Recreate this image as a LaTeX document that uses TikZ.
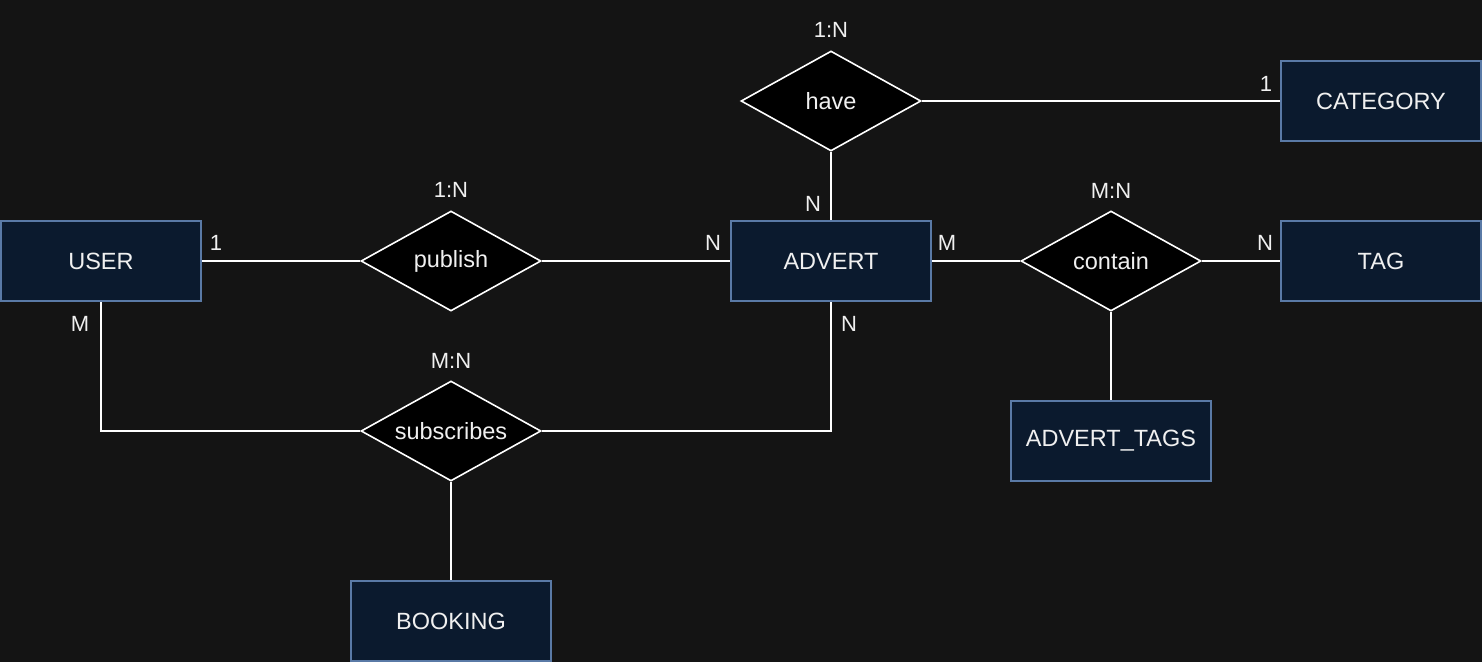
\documentclass[tikz,border=0pt]{standalone}
\usepackage{fontspec}
\setmainfont{Liberation Sans}
\usetikzlibrary{shapes.geometric}
\definecolor{bg}{HTML}{141414}
\definecolor{boxfill}{HTML}{0B1A2E}
\definecolor{boxline}{HTML}{5A7AA6}
\definecolor{txt}{HTML}{F0F0F0}
\tikzset{
  x=1pt,y=-1pt,
  entity/.style={draw=boxline,fill=boxfill,line width=1.6pt,minimum width=200pt,minimum height=80pt,inner sep=0pt,text=txt,font=\fontsize{23.5}{27}\selectfont},
  rel/.style={draw=white,fill=black,line width=1.6pt,diamond,aspect=1.8,minimum width=180pt,minimum height=100pt,inner sep=0pt,text=txt,font=\fontsize{23.5}{27}\selectfont},
  card/.style={text=txt,font=\fontsize{22}{26}\selectfont,inner sep=0pt},
  conn/.style={draw=white,line width=1.6pt},
}
\begin{document}
\begin{tikzpicture}
\fill[bg] (0,0) rectangle (1482,662);
\useasboundingbox (0,0) rectangle (1482,662);
\node[entity] (user) at (101,261) {USER};
\node[entity] (advert) at (831,261) {ADVERT};
\node[entity] (category) at (1381,101) {CATEGORY};
\node[entity] (tag) at (1381,261) {TAG};
\node[entity] (adverttags) at (1111,441) {ADVERT\_TAGS};
\node[entity] (booking) at (451,621) {BOOKING};
\node[rel] (have) at (831,101) {have};
\node[rel] (publish) at (451,261) {publish};
\node[rel] (contain) at (1111,261) {contain};
\node[rel] (subscribes) at (451,431) {subscribes};
\draw[conn] (user) -- (publish);
\draw[conn] (publish) -- (advert);
\draw[conn] (have) -- (category);
\draw[conn] (have) -- (advert);
\draw[conn] (advert) -- (contain);
\draw[conn] (contain) -- (tag);
\draw[conn] (contain) -- (adverttags);
\draw[conn] (user.south) |- (subscribes.west);
\draw[conn] (subscribes.east) -| (advert.south);
\draw[conn] (subscribes) -- (booking);
\node[card] (c1) at (831,30) {1:N};
\node[card] (c2) at (451,190) {1:N};
\node[card] (c3) at (1111,191) {M:N};
\node[card] (c4) at (451,361) {M:N};
\node[card] (l1) at (1266,84) {1};
\node[card] (l2) at (813,204) {N};
\node[card] (l3) at (216,243) {1};
\node[card] (l4) at (713,243) {N};
\node[card] (l5) at (947,243) {M};
\node[card] (l6) at (1265,243) {N};
\node[card] (l7) at (80,324) {M};
\node[card] (l8) at (849,324) {N};
\end{tikzpicture}
\end{document}
